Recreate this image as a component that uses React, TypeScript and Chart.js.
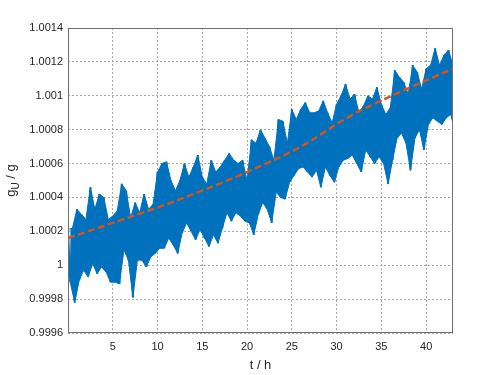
import React, { useEffect, useRef } from "react";
import { Chart, registerables } from "chart.js";

Chart.register(...registerables);

// Sampling interval of the envelope readings (hours)
const sampleStep = 0.5;

// Upper peaks of the measured signal, read at t = 0, 0.5, 1, ... 43 h
const measuredPeaks = [
  1.00021, 1.00022, 1.00033, 1.0003, 1.00027, 1.00046, 1.00033, 1.00042, 1.0004, 1.00027,
  1.00029, 1.00032, 1.00048, 1.00044, 1.00028, 1.00037, 1.00031, 1.00042, 1.00033, 1.00036,
  1.00055, 1.0006, 1.00061, 1.0005, 1.00044, 1.0005, 1.0006, 1.00052, 1.00058, 1.00065,
  1.00052, 1.00048, 1.00062, 1.00055, 1.00058, 1.00062, 1.00066, 1.00062, 1.0006, 1.00062,
  1.0005, 1.00074, 1.00072, 1.0008, 1.00075, 1.0007, 1.00062, 1.00086, 1.00085, 1.00072,
  1.00092, 1.00086, 1.00092, 1.00096, 1.0009, 1.0009, 1.00091, 1.00097, 1.0009, 1.00084,
  1.00095, 1.001, 1.00107, 1.00098, 1.00101, 1.0009, 1.00094, 1.001, 1.00098, 1.00105,
  1.00095, 1.00089, 1.00093, 1.00115, 1.00111, 1.00108, 1.00101, 1.00118, 1.00114, 1.00104,
  1.00116, 1.00118, 1.00128, 1.00118, 1.00124, 1.00127, 1.00118,
];

// Lower troughs of the measured signal, read at t = 0.25, 0.75, ... h
const measuredTroughs = [
  0.9999, 0.99978, 0.99991, 0.99997, 0.99993, 1.00001, 0.99995, 0.99999, 0.99996, 0.9999,
  0.9999, 0.99989, 1.00009, 1.00003, 0.99981, 1.00003, 1.00003, 0.99999, 1.00005, 1.00007,
  1.0001, 1.0001, 1.00016, 1.00012, 1.00007, 1.00019, 1.00025, 1.0002, 1.00015, 1.00021,
  1.00016, 1.00011, 1.00018, 1.00013, 1.00022, 1.00031, 1.00026, 1.00031, 1.00029, 1.00026,
  1.00025, 1.00018, 1.0003, 1.00037, 1.00033, 1.00025, 1.00043, 1.0004, 1.00039, 1.00049,
  1.00053, 1.00057, 1.00058, 1.00055, 1.00052, 1.00056, 1.00046, 1.00058, 1.00053, 1.00049,
  1.00058, 1.00062, 1.00063, 1.00065, 1.0006, 1.00055, 1.00068, 1.00064, 1.0006, 1.00064,
  1.0006, 1.00048, 1.00062, 1.00075, 1.00078, 1.00072, 1.00056, 1.00075, 1.0008, 1.00068,
  1.00083, 1.00087, 1.00085, 1.00083, 1.00087, 1.00089, 1.00078,
];

// Smoothed trend (orange dashed)
const trendHours = [0, 5, 10.5, 15, 20, 26, 31.5, 37, 43];
const trendValues = [1.00016, 1.00025, 1.00035, 1.00044, 1.00055, 1.0007, 1.00088, 1.00102, 1.00116];

// Axis ticks
const xTicks = [5, 10, 15, 20, 25, 30, 35, 40];
const yTicks = [0.9996, 0.9998, 1, 1.0002, 1.0004, 1.0006, 1.0008, 1.001, 1.0012, 1.0014];
const yTickLabels = ["0.9996", "0.9998", "1", "1.0002", "1.0004", "1.0006", "1.0008", "1.001", "1.0012", "1.0014"];

const FONT = "'Liberation Sans', Arial, Helvetica, sans-serif";
const TEXT = "#262626";
const BLUE = "#0072BD";

const framePlugin = {
  id: "frameAndLabels",
  afterDraw(chart: any) {
    const { ctx, chartArea } = chart;
    const { left, right, top, bottom } = chartArea;
    ctx.save();
    ctx.strokeStyle = "#707070";
    ctx.lineWidth = 1;
    ctx.setLineDash([]);
    ctx.strokeRect(Math.round(left) + 0.5, Math.round(top) + 0.5, Math.round(right - left) - 1, Math.round(bottom - top) - 1);

    // x label
    ctx.fillStyle = TEXT;
    ctx.font = `13px ${FONT}`;
    ctx.textAlign = "center";
    ctx.textBaseline = "alphabetic";
    ctx.fillText("t / h", (left + right) / 2, 369);

    // y label with subscript
    const cy = (top + bottom) / 2;
    ctx.translate(15, cy);
    ctx.rotate(-Math.PI / 2);
    ctx.textAlign = "left";
    const big = `13px ${FONT}`;
    const small = `10px ${FONT}`;
    ctx.font = big;
    const wg = ctx.measureText("g").width;
    const wrest = ctx.measureText(" / g").width;
    ctx.font = small;
    const wu = ctx.measureText("U").width;
    const total = wg + wu + wrest;
    let x = -total / 2;
    ctx.font = big;
    ctx.fillText("g", x, 0);
    x += wg;
    ctx.font = small;
    ctx.fillText("U", x, 3.5);
    x += wu;
    ctx.font = big;
    ctx.fillText(" / g", x, 0);
    ctx.restore();
  },
};

export default function App() {
  const ref = useRef<HTMLCanvasElement | null>(null);

  useEffect(() => {
    if (!ref.current) return;
    const peaks: { x: number; y: number }[] = [];
    const troughs: { x: number; y: number }[] = [];
    const signal: { x: number; y: number }[] = [];
    for (let i = 0; i < measuredPeaks.length; i++) {
      const t = i * sampleStep;
      const p = { x: t, y: measuredPeaks[i] };
      const q = { x: t + sampleStep / 2, y: measuredTroughs[i] };
      peaks.push(p);
      troughs.push(q);
      signal.push(p, q);
    }
    const trend = trendHours.map((t, i) => ({ x: t, y: trendValues[i] }));

    const chart = new Chart(ref.current, {
      type: "line",
      data: {
        datasets: [
          {
            label: "peaks",
            data: peaks,
            borderColor: BLUE,
            borderWidth: 1,
            pointRadius: 0,
            tension: 0,
            fill: false,
            order: 3,
          },
          {
            label: "troughs",
            data: troughs,
            borderColor: BLUE,
            backgroundColor: BLUE,
            borderWidth: 1,
            pointRadius: 0,
            tension: 0,
            fill: "-1",
            order: 3,
          },
          {
            label: "gU/g",
            data: signal,
            borderColor: BLUE,
            borderWidth: 2,
            pointRadius: 0,
            tension: 0,
            fill: false,
            order: 2,
          },
          {
            label: "trend",
            data: trend,
            borderColor: "#D95319",
            borderWidth: 2.5,
            borderDash: [7, 3.5],
            pointRadius: 0,
            cubicInterpolationMode: "monotone",
            fill: false,
            order: 0,
          },
        ],
      },
      options: {
        responsive: false,
        animation: false,
        devicePixelRatio: 1,
        layout: { padding: { left: 0, right: 47, top: 28, bottom: 0 } },
        plugins: { legend: { display: false }, tooltip: { enabled: false } },
        scales: {
          x: {
            type: "linear",
            min: 0,
            max: 43,
            afterBuildTicks: (scale: any) => {
              scale.ticks = xTicks.map((v) => ({ value: v }));
            },
            afterFit: (scale: any) => {
              scale.height = 42;
            },
            grid: {
              color: "#a8a8a8",
              lineWidth: 1,
              drawTicks: false,
            },
            border: { display: false, dash: [2, 2] },
            ticks: {
              color: TEXT,
              font: { family: FONT, size: 11 },
              padding: 7,
              maxRotation: 0,
              autoSkip: false,
              callback: (v: any) => String(v),
            },
          },
          y: {
            type: "linear",
            min: 0.9996,
            max: 1.0014,
            afterBuildTicks: (scale: any) => {
              scale.ticks = yTicks.map((v) => ({ value: v }));
            },
            afterFit: (scale: any) => {
              scale.width = 68;
            },
            grid: {
              color: "#a8a8a8",
              lineWidth: 1,
              drawTicks: false,
            },
            border: { display: false, dash: [2, 2] },
            ticks: {
              color: TEXT,
              font: { family: FONT, size: 11 },
              padding: 5,
              autoSkip: false,
              callback: (v: any) => {
                const idx = yTicks.findIndex((t) => Math.abs(t - v) < 1e-9);
                return idx >= 0 ? yTickLabels[idx] : "";
              },
            },
          },
        },
      } as any,
      plugins: [framePlugin],
    });
    return () => chart.destroy();
  }, []);

  return (
    <div style={{ position: "absolute", left: 0, top: 0, width: 500, height: 375, background: "#fff" }}>
      <canvas ref={ref} width={500} height={375} style={{ display: "block" }} />
    </div>
  );
}
